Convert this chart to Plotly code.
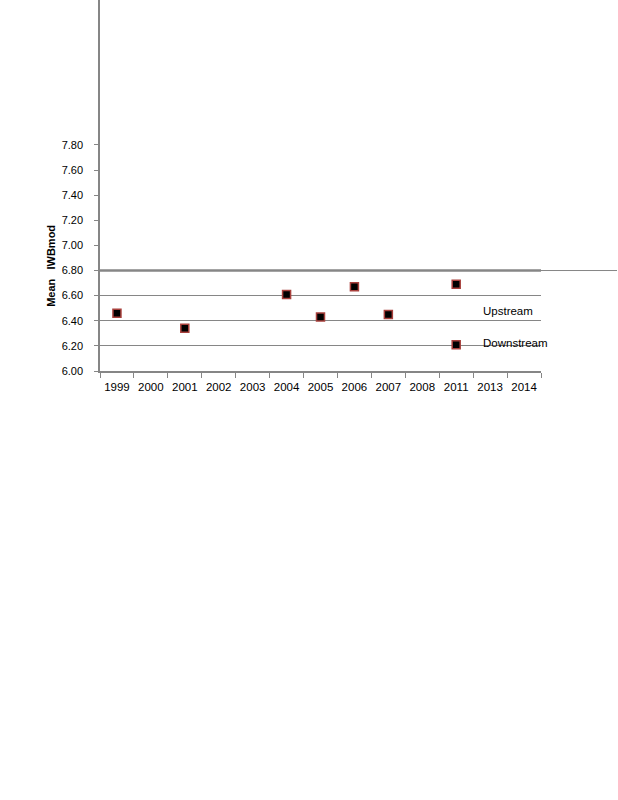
import plotly.graph_objects as go

categories = ["1999", "2000", "2001", "2002", "2003", "2004", "2005",
              "2006", "2007", "2008", "2011", "2013", "2014"]
upstream_years = ["1999", "2001", "2004", "2005", "2006", "2007", "2011"]
upstream_values = [6.46, 6.34, 6.61, 6.43, 6.67, 6.45, 6.69]
downstream_years = ["2011"]
downstream_values = [6.21]
y_tick_values = [6.0, 6.2, 6.4, 6.6, 6.8, 7.0, 7.2, 7.4, 7.6, 7.8]
y_tick_labels = ["%.2f" % v for v in y_tick_values]
grid_values = [6.2, 6.4, 6.6]
ref_line_value = 6.8
y_range = [6.0, 8.954]

FONT = "Liberation Sans, Arial, sans-serif"
GRAY = "#868686"

marker = dict(symbol="square", size=8, color="black",
              line=dict(color="#a8403c", width=1.5))

fig = go.Figure()
# invisible trace to carry the grid-only overlay axis
fig.add_trace(go.Scatter(x=[categories[0]], y=[y_range[0]], yaxis="y2",
                         mode="markers", marker=dict(opacity=0),
                         showlegend=False, hoverinfo="skip"))
fig.add_trace(go.Scatter(x=upstream_years, y=upstream_values, mode="markers",
                         name="Upstream", marker=marker, showlegend=False))
fig.add_trace(go.Scatter(x=downstream_years, y=downstream_values, mode="markers",
                         name="Downstream", marker=marker, showlegend=False))

fig.update_layout(
    width=618, height=800,
    margin=dict(l=100, r=77, t=0, b=429, pad=0),
    paper_bgcolor="white", plot_bgcolor="white",
    font=dict(family=FONT, size=11, color="black"),
    xaxis=dict(type="category", categoryorder="array", categoryarray=categories,
               range=[-0.5, len(categories) - 0.5],
               showgrid=False, zeroline=False,
               showline=True, linecolor=GRAY, linewidth=1.5,
               ticks="outside", tickson="boundaries", ticklen=5,
               tickcolor=GRAY, tickwidth=1, tickangle=0,
               ticklabelstandoff=4,
               tickfont=dict(family=FONT, size=11.5, color="black")),
    yaxis=dict(range=y_range, tickmode="array", tickvals=y_tick_values,
               ticktext=y_tick_labels, showgrid=False, zeroline=False,
               showline=True, linecolor=GRAY, linewidth=1.5,
               ticks="outside", ticklen=4, tickcolor=GRAY,
               ticklabelstandoff=9,
               tickfont=dict(family=FONT, size=11, color="black")),
    yaxis2=dict(range=y_range, overlaying="y", side="left",
                tickmode="array", tickvals=grid_values,
                showgrid=True, gridcolor=GRAY, gridwidth=1,
                showticklabels=False, ticks="", zeroline=False,
                showline=False),
    shapes=[
        dict(type="line", xref="paper", yref="y",
             x0=0, x1=(617 - 100) / 441, y0=ref_line_value, y1=ref_line_value,
             line=dict(color=GRAY, width=1), layer="below"),
        dict(type="line", xref="paper", yref="y",
             x0=0, x1=1, y0=ref_line_value, y1=ref_line_value,
             line=dict(color=GRAY, width=2.5), layer="below"),
    ],
    annotations=[
        dict(text="Mean\u00a0\u00a0\u00a0IWBmod", textangle=-90,
             xref="paper", yref="paper", x=-0.113, y=0.284,
             xanchor="center", yanchor="middle", showarrow=False,
             font=dict(family=FONT, size=11, color="black", weight="bold")),
        dict(text="Upstream", xref="paper", yref="paper", x=0.865, y=0.1617,
             xanchor="left", yanchor="middle", showarrow=False,
             font=dict(family=FONT, size=11.5, color="black")),
        dict(text="Downstream", xref="paper", yref="paper", x=0.865, y=0.0755,
             xanchor="left", yanchor="middle", showarrow=False,
             font=dict(family=FONT, size=11.5, color="black")),
    ],
)

fig.write_html("out.html",
               config={"displayModeBar": False},
               post_script="document.body.style.margin='0';")
